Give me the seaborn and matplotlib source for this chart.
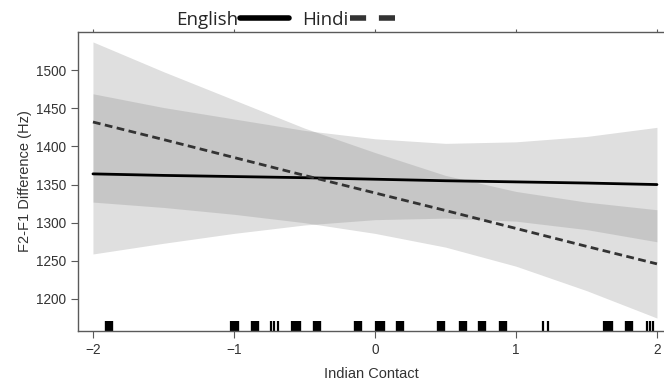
"""
Predicted F2-F1 difference by Indian contact, English vs Hindi
"""

import matplotlib
matplotlib.use("Agg")
import matplotlib.pyplot as plt
from matplotlib.lines import Line2D
import seaborn as sns

sns.set_style("ticks")
plt.rcParams["font.family"] = ["Liberation Sans", "DejaVu Sans"]

# x grid the fitted values were read at
contact = [-2.0, -1.5, -1.0, -0.5, 0.0, 0.5, 1.0, 1.5, 2.0]

# English fit and confidence band
english_fit = [1364, 1362, 1360.5, 1359, 1357, 1355, 1353.5, 1352, 1350]
english_lo = [1259, 1273, 1286, 1297, 1304, 1306, 1302, 1291, 1275]
english_hi = [1469, 1451, 1436, 1421, 1410, 1404, 1406, 1413, 1425]

# Hindi fit and confidence band
hindi_fit = [1432, 1409, 1385.5, 1362, 1339, 1316, 1292.5, 1269, 1246]
hindi_lo = [1327, 1320, 1311, 1300, 1286, 1268, 1243, 1211, 1175]
hindi_hi = [1537, 1498, 1461, 1424, 1392, 1362, 1341, 1327, 1317]

# rug of observed contact scores
rug_block = [-1.887, -0.993, -0.853, -0.553, -0.411, -0.117, 0.043, 0.181,
             0.468, 0.621, 0.762, 0.911, 1.663, 1.801]
rug_thin = [-1.021, -0.738, -0.716, -0.688, -0.589, 0.007, 1.191, 1.227,
            1.624, 1.929, 1.950, 1.972]

fig = plt.figure(figsize=(6.64, 3.81), dpi=100)
ax = fig.add_axes([0.1175, 0.1312, 0.8825, 0.7848])

band_color = "#7a7a7a"
ax.fill_between(contact, english_lo, english_hi, color=band_color, alpha=0.24, lw=0)
ax.fill_between(contact, hindi_lo, hindi_hi, color=band_color, alpha=0.24, lw=0)

sns.lineplot(x=contact, y=english_fit, ax=ax, color="black", lw=2)
sns.lineplot(x=contact, y=hindi_fit, ax=ax, color="#333333", lw=2)
ax.lines[-1].set_dashes((2.8, 1.6))

sns.rugplot(x=rug_block, ax=ax, height=0.034, color="black", linewidth=6)
sns.rugplot(x=rug_thin, ax=ax, height=0.034, color="black", linewidth=1.6)

ax.set_xlim(-2.106, 2.05)
ax.set_ylim(1158, 1550)
ax.set_xticks([-2, -1, 0, 1, 2])
ax.set_yticks([1200, 1250, 1300, 1350, 1400, 1450, 1500])

axis_gray = "#5a5a5a"
for side in ["left", "bottom", "top"]:
    ax.spines[side].set_color(axis_gray)
    ax.spines[side].set_linewidth(1.0)
ax.spines["right"].set_visible(False)

ax.tick_params(axis="both", direction="out", colors=axis_gray,
               labelcolor="#333333", labelsize=9.8, length=5, width=0.8)
ax.tick_params(axis="x", top=True, labeltop=False, direction="out")
for t in ax.xaxis.get_major_ticks():
    t.tick2line.set_markersize(2)

ax.set_xlabel("Indian Contact", fontsize=10.5, color="#333333", labelpad=7)
ax.set_ylabel("F2-F1 Difference (Hz)", fontsize=10.5, color="#333333", labelpad=3)

handles = [
    Line2D([], [], color="black", lw=4),
    Line2D([], [], color="#333333", lw=4, dashes=(2.9, 2.3)),
]
fig.legend(handles, ["English", "Hindi"], loc="center",
           bbox_to_anchor=(0.433, 0.948), ncol=2, frameon=False,
           markerfirst=False, handlelength=2.6, handletextpad=0.1,
           columnspacing=0.7,
           prop={"family": ["Open Sans", "DejaVu Sans"], "size": 13.5})

fig.savefig("out.png", dpi=100)
plt.close(fig)
